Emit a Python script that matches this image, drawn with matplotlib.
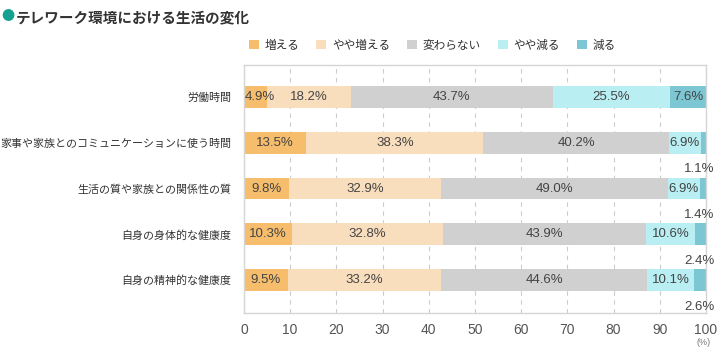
import matplotlib.pyplot as plt
import numpy as np

plt.rcParams['font.family'] = ['Noto Sans CJK JP', 'DejaVu Sans']

categories = ['労働時間', '家事や家族とのコミュニケーションに使う時間', '生活の質や家族との関係性の質',
              '自身の身体的な健康度', '自身の精神的な健康度']
series_names = ['増える', 'やや増える', '変わらない', 'やや減る', '減る']
inc = [4.9, 13.5, 9.8, 10.3, 9.5]
slight_inc = [18.2, 38.3, 32.9, 32.8, 33.2]
same = [43.7, 40.2, 49.0, 43.9, 44.6]
slight_dec = [25.5, 6.9, 6.9, 10.6, 10.1]
dec = [7.6, 1.1, 1.4, 2.4, 2.6]
colors = ['#F6BD6C', '#F9DEBD', '#D0D0D0', '#B9EEF3', '#7DC6D4']

data = np.array([inc, slight_inc, same, slight_dec, dec])
y = np.arange(len(categories))
num_font = ['Liberation Sans', 'DejaVu Sans']

fig = plt.figure(figsize=(7.27, 3.52), dpi=100)
ax = fig.add_axes([0.3356, 0.111, 0.9711 - 0.3356, 0.8153 - 0.111])

left = np.zeros(len(categories))
for i, name in enumerate(series_names):
    ax.barh(y, data[i], left=left, height=0.48, color=colors[i], label=name, zorder=2)
    for j, v in enumerate(data[i]):
        txt = f'{v:.1f}%'
        if v < 3:
            ax.text(101.9, y[j] + 0.58, txt, ha='right', va='center', fontsize=9.5,
                    color='#444444', family=num_font)
        elif v < 6:
            ax.text(left[j] + 0.1, y[j], txt, ha='left', va='center', fontsize=9.5,
                    color='#444444', family=num_font, zorder=3)
        else:
            ax.text(left[j] + v / 2, y[j], txt, ha='center', va='center', fontsize=9.5,
                    color='#444444', family=num_font, zorder=3)
    left += data[i]

ax.set_xlim(0, 100)
ax.set_ylim(4.72, -0.7)
ax.set_xticks(range(0, 101, 10))
ax.set_xticklabels([str(t) for t in range(0, 101, 10)], family=num_font)
ax.set_yticks(y)
ax.set_yticklabels(categories, fontsize=7.9, color='#333333')
ax.tick_params(axis='x', length=0, labelsize=10, labelcolor='#555555', pad=7)
ax.tick_params(axis='y', length=0, pad=9)
ax.grid(axis='x', linestyle=(0, (4, 4)), color='#CCCCCC', linewidth=0.8, zorder=0)
for s in ax.spines.values():
    s.set_color('#D5D5D5')
    s.set_linewidth(1)
ax.text(99.5, -0.118, '(%)', transform=ax.get_xaxis_transform(), ha='center', va='center',
        fontsize=6.5, color='#777777', family=num_font)

leg = ax.legend(loc='lower left', bbox_to_anchor=(0.0, 1.035), ncol=5, frameon=False,
                fontsize=8.4, handlelength=0.85, handleheight=0.85, handletextpad=0.5,
                columnspacing=1.45, borderaxespad=0)
for t in leg.get_texts():
    t.set_color('#333333')

fig.text(0.002, 0.952, '●', color='#16A08F', fontsize=9.5, va='center')
fig.text(0.021, 0.952, 'テレワーク環境における生活の変化', color='#333333', fontsize=10.5,
         fontweight='bold', va='center')

fig.savefig('out.png', dpi=100)
